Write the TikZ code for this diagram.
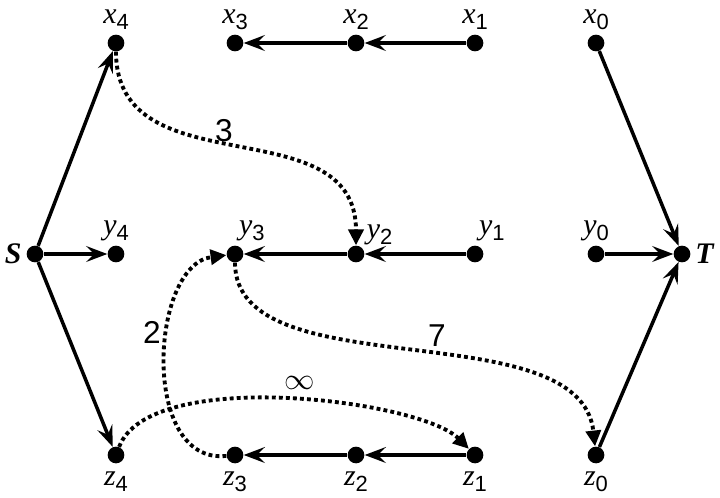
\documentclass[tikz,border=0pt]{standalone}
\usepackage{fontspec}
\setmainfont{Liberation Serif}
\setsansfont{Liberation Sans}
\usetikzlibrary{arrows.meta}
\newcommand{\vlab}[2]{\textit{#1}\raisebox{-.45ex}{\sffamily\fontsize{12.5}{14}\selectfont #2}}

\begin{document}
\begin{tikzpicture}[x=0.02cm,y=-0.02cm,font=\fontsize{17}{20}\selectfont,
  dot/.style={circle,fill,inner sep=0pt,minimum size=9.5pt},
  lab/.style={inner sep=1pt,label distance=1.5pt},
  blab/.style={inner sep=1pt,label distance=3.5pt},
  arr/.style={line width=2pt,-{Stealth[length=12pt,width=9pt,inset=4.5pt]}},
  dotarr/.style={line width=2.2pt,dash pattern=on 2.2pt off 1.8pt,-{Triangle[length=9pt,width=8.5pt]}},
  num/.style={font=\sffamily\fontsize{18}{20}\selectfont}]
  \useasboundingbox (0,0) rectangle (720,497);
  % source and sink
  \node[dot,label={[lab]left:\textbf{\textit{S}}}] (S) at (35,254) {};
  \node[dot,label={[lab]right:\textbf{\textit{T}}}] (T) at (682,254) {};
  % top row
  \node[dot,label={[lab]above:\vlab{x}{4}}] (x4) at (116,43) {};
  \node[dot,label={[lab]above:\vlab{x}{3}}] (x3) at (235,43) {};
  \node[dot,label={[lab]above:\vlab{x}{2}}] (x2) at (356,43) {};
  \node[dot,label={[lab]above:\vlab{x}{1}}] (x1) at (475,43) {};
  \node[dot,label={[lab]above:\vlab{x}{0}}] (x0) at (596,43) {};
  % middle row
  \node[dot,label={[lab]above:\vlab{y}{4}}] (y4) at (116,254) {};
  \node[dot,label={[lab]80:\vlab{y}{3}}] (y3) at (235,254) {};
  \node[dot,label={[lab]40:\vlab{y}{2}}] (y2) at (356,254) {};
  \node[dot,label={[lab]80:\vlab{y}{1}}] (y1) at (475,254) {};
  \node[dot,label={[lab]above:\vlab{y}{0}}] (y0) at (596,254) {};
  % bottom row
  \node[dot,label={[blab]below:\vlab{z}{4}}] (z4) at (116,455) {};
  \node[dot,label={[blab]below:\vlab{z}{3}}] (z3) at (235,455) {};
  \node[dot,label={[blab]below:\vlab{z}{2}}] (z2) at (356,455) {};
  \node[dot,label={[blab]below:\vlab{z}{1}}] (z1) at (475,455) {};
  \node[dot,label={[blab]below:\vlab{z}{0}}] (z0) at (596,455) {};
  % solid edges
  \foreach \a/\b in {S/x4,S/y4,S/z4,x1/x2,x2/x3,y1/y2,y2/y3,z1/z2,z2/z3,x0/T,y0/T,z0/T}
    \draw[arr] (\a) -- (\b);
  % dotted edges
  \draw[dotarr] (x4) .. controls (116,190) and (356,105) .. (y2);
  \draw[dotarr] (y3) .. controls (235,390) and (580,310) .. (z0);
  \draw[dotarr] (z3) .. controls (140,465) and (150,265) .. (y3);
  \draw[dotarr] (z4) .. controls (150,366) and (420,400) .. (z1);
  \node[num] (w3) at (224,131) {3};
  \node[num] (w7) at (437,336) {7};
  \node[num] (w2) at (152,332) {2};
  \node[font=\fontsize{19}{20}\selectfont] (winf) at (300,383) {$\infty$};
\end{tikzpicture}
\end{document}
